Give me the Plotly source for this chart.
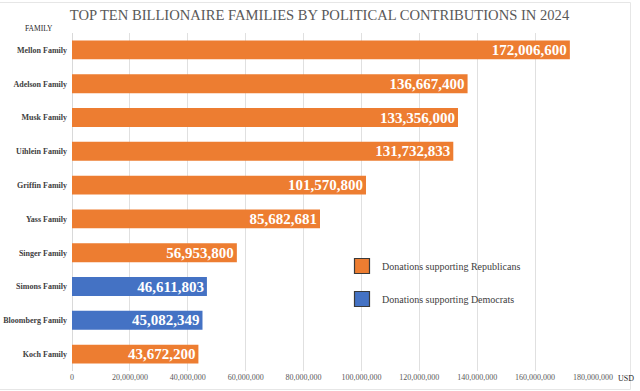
import plotly.graph_objects as go

families = ["Mellon Family", "Adelson Family", "Musk Family", "Uihlein Family", "Griffin Family",
            "Yass Family", "Singer Family", "Simons Family", "Bloomberg Family", "Koch Family"]
donations = [172006600, 136667400, 133356000, 131732833, 101570800,
             85682681, 56953800, 46611803, 45082349, 43672200]
party = ["R", "R", "R", "R", "R", "R", "R", "D", "D", "R"]
x_ticks = [0, 20000000, 40000000, 60000000, 80000000, 100000000,
           120000000, 140000000, 160000000, 180000000]
x_tick_labels = ["0", "20,000,000", "40,000,000", "60,000,000", "80,000,000", "100,000,000",
                 "120,000,000", "140,000,000", "160,000,000", "180,000,000"]

ORANGE = "#ED7D31"
BLUE = "#4472C4"
colors = [ORANGE if p == "R" else BLUE for p in party]
SERIF = "'Liberation Serif', 'Times New Roman', Times, 'DejaVu Serif', serif"

W, H = 640, 391
L, R, T, B = 72, 47, 33, 20
pw, ph = W - L - R, H - T - B

def px(x):
    return (x - L) / pw

def py(y):
    return (H - B - y) / ph

fig = go.Figure()
fig.add_trace(go.Bar(
    y=families, x=donations, orientation="h",
    marker=dict(color=colors, line=dict(width=0)),
    width=0.56,
    texttemplate="%{x:,}",
    textposition="inside", insidetextanchor="end",
    textfont=dict(family=SERIF, size=15, color="white", weight="bold"),
    showlegend=False, hoverinfo="skip",
))
fig.add_trace(go.Scatter(
    x=[None], y=[None], mode="markers", name="Donations supporting Republicans",
    marker=dict(symbol="square", size=15, color=ORANGE, line=dict(color="#3a3a3a", width=1.2)),
    legend="legend",
))
fig.add_trace(go.Scatter(
    x=[None], y=[None], mode="markers", name="Donations supporting Democrats",
    marker=dict(symbol="square", size=15, color=BLUE, line=dict(color="#3a3a3a", width=1.2)),
    legend="legend2",
))

legend_common = dict(
    font=dict(family=SERIF, size=10, color="#404040"),
    bgcolor="rgba(0,0,0,0)", borderwidth=0,
    xanchor="left", yanchor="middle", itemwidth=30,
)
fig.update_layout(
    width=W, height=H,
    margin=dict(l=L, r=R, t=T, b=B, autoexpand=False),
    paper_bgcolor="white", plot_bgcolor="white",
    title=dict(text="TOP TEN BILLIONAIRE FAMILIES BY POLITICAL CONTRIBUTIONS IN 2024",
               x=319.5 / W, xanchor="center", xref="container",
               y=1 - 15 / H, yanchor="middle", yref="container", automargin=False,
               font=dict(family=SERIF, size=14.6, color="#595959")),
    xaxis=dict(range=[0, 180000000], tickvals=x_ticks, ticktext=x_tick_labels,
               showgrid=True, gridcolor="#e0e0e0", gridwidth=1,
               zeroline=True, zerolinecolor="#d9d9d9", zerolinewidth=1,
               ticks="", showline=False, fixedrange=True, automargin=False,
               tickfont=dict(family=SERIF, size=8, color="#595959")),
    yaxis=dict(autorange="reversed", categoryorder="array", categoryarray=families,
               ticks="", showgrid=False, showline=False, ticklabelstandoff=4, automargin=False,
               tickfont=dict(family=SERIF, size=8, color="#404040", weight="bold")),
    legend=dict(x=px(342), y=py(266), **legend_common),
    legend2=dict(x=px(342), y=py(299), **legend_common),
    uniformtext=dict(minsize=15, mode="show"),
    annotations=[
        dict(text="FAMILY", xref="paper", yref="paper", x=px(39), y=py(29),
             xanchor="center", yanchor="middle", showarrow=False,
             font=dict(family=SERIF, size=7.5, color="#262626")),
        dict(text="USD", xref="paper", yref="paper", x=px(616), y=py(378),
             xanchor="left", yanchor="middle", showarrow=False,
             font=dict(family=SERIF, size=8, color="#262626")),
    ],
    shapes=[
        dict(type="rect", xref="paper", yref="paper",
             x0=px(-1), x1=px(630.5), y0=py(389.5), y1=py(2.5),
             line=dict(color="#e6e6e6", width=1), fillcolor="rgba(0,0,0,0)", layer="below"),
    ],
)

fig.write_html("out.html", config={"displayModeBar": False},
               post_script="document.body.style.margin='0';document.body.style.padding='0';")
